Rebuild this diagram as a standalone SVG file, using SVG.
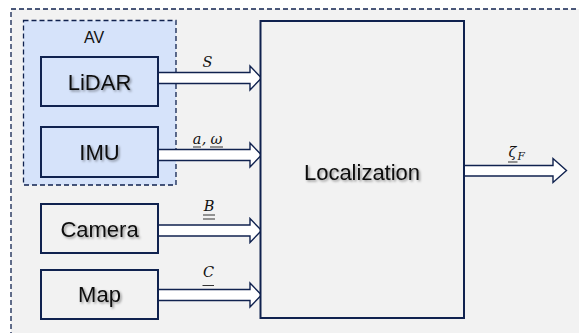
<svg xmlns="http://www.w3.org/2000/svg" width="579" height="333" viewBox="0 0 579 333">
  <defs>
    <filter id="shadow" x="-10%" y="-30%" width="130%" height="180%">
      <feDropShadow dx="1.5" dy="1.5" stdDeviation="1" flood-color="#000" flood-opacity="0.4"/>
    </filter>
    <style>
      .frame { fill: #f2f2f2; stroke: #10224f; stroke-width: 1.3; stroke-dasharray: 5 3; }
      .group { fill: #d6e3fa; stroke: #10224f; stroke-width: 1.3; stroke-dasharray: 5 3; }
      .box { stroke: #10224f; stroke-width: 2; }
      .blue { fill: #d6e3fa; }
      .gray { fill: #f2f2f2; }
      .label { font-family: "Liberation Sans", Arial, sans-serif; font-size: 22px; fill: #111; text-anchor: middle; filter: url(#shadow); }
      .title { font-family: "Liberation Sans", Arial, sans-serif; font-size: 16px; fill: #111; text-anchor: middle; }
      .arrow { fill: #ffffff; stroke: #10224f; stroke-width: 1.4; stroke-linejoin: miter; }
      .math { font-family: "DejaVu Serif", "Liberation Serif", serif; font-style: italic; font-size: 14.5px; fill: #111; text-anchor: middle; }
      .sub { font-family: "DejaVu Serif", "Liberation Serif", serif; font-style: italic; font-size: 10.5px; fill: #111; }
      .ul { stroke: #333; stroke-width: 1; }
    </style>
  </defs>

  <rect width="579" height="333" fill="#ffffff"/>
  <!-- outer system boundary -->
  <rect class="frame" x="11" y="9" width="580" height="340"/>

  <!-- AV group -->
  <g id="av">
    <rect class="group" x="23.5" y="20.5" width="152.5" height="164.5"/>
    <text class="title" x="94" y="43">AV</text>
  </g>

  <!-- connectors -->
  <g id="connectors">
    <!-- LiDAR -> Localization -->
    <path class="arrow" d="M158,72.5 H250 V66 L261.5,78 L250,90 V83.5 H158 Z"/>
    <!-- IMU -> Localization -->
    <path class="arrow" d="M158,149.5 H250 V143 L261.5,155 L250,167 V160.5 H158 Z"/>
    <!-- Camera -> Localization -->
    <path class="arrow" d="M158,225 H250 V218.5 L261.5,230.5 L250,242.5 V236 H158 Z"/>
    <!-- Map -> Localization -->
    <path class="arrow" d="M158,289.5 H250 V283 L261.5,295 L250,307 V300.5 H158 Z"/>
    <!-- Localization output -->
    <path class="arrow" d="M464,165.5 H553 V158.5 L566.5,170.5 L553,182.5 V176 H464 Z"/>

    <!-- signal labels -->
    <text class="math" x="207.5" y="67">S</text>

    <text class="math" x="197" y="144">a</text>
    <text class="math" x="204" y="144">,</text>
    <text class="math" x="216.5" y="144">ω</text>
    <line class="ul" x1="193" y1="147" x2="201" y2="147"/>
    <line class="ul" x1="210" y1="147" x2="223" y2="147"/>

    <text class="math" x="209" y="210.5">B</text>
    <line class="ul" x1="203" y1="215" x2="215" y2="215"/>
    <line class="ul" x1="203" y1="219" x2="215" y2="219"/>

    <text class="math" x="208.5" y="277">C</text>
    <line class="ul" x1="202.5" y1="285.5" x2="214" y2="285.5"/>

    <text class="math" x="512.5" y="157">ζ</text>
    <text class="sub" x="517.5" y="160">F</text>
    <line class="ul" x1="508" y1="162" x2="517.5" y2="162"/>
  </g>

  <!-- sensor and source nodes -->
  <g id="lidar">
    <rect class="box blue" x="41" y="57" width="117" height="49"/>
    <text class="label" x="99.5" y="89.5">LiDAR</text>
  </g>
  <g id="imu">
    <rect class="box blue" x="41" y="127" width="117" height="50"/>
    <text class="label" x="99.5" y="160">IMU</text>
  </g>
  <g id="camera">
    <rect class="box gray" x="41" y="204" width="117" height="49"/>
    <text class="label" x="99.5" y="236.5">Camera</text>
  </g>
  <g id="map">
    <rect class="box gray" x="41" y="270" width="117" height="49"/>
    <text class="label" x="99.5" y="302">Map</text>
  </g>

  <!-- processing block -->
  <g id="localization">
    <rect class="box gray" x="260.5" y="21" width="203.5" height="297"/>
    <text class="label" x="362" y="179.5">Localization</text>
  </g>
</svg>
